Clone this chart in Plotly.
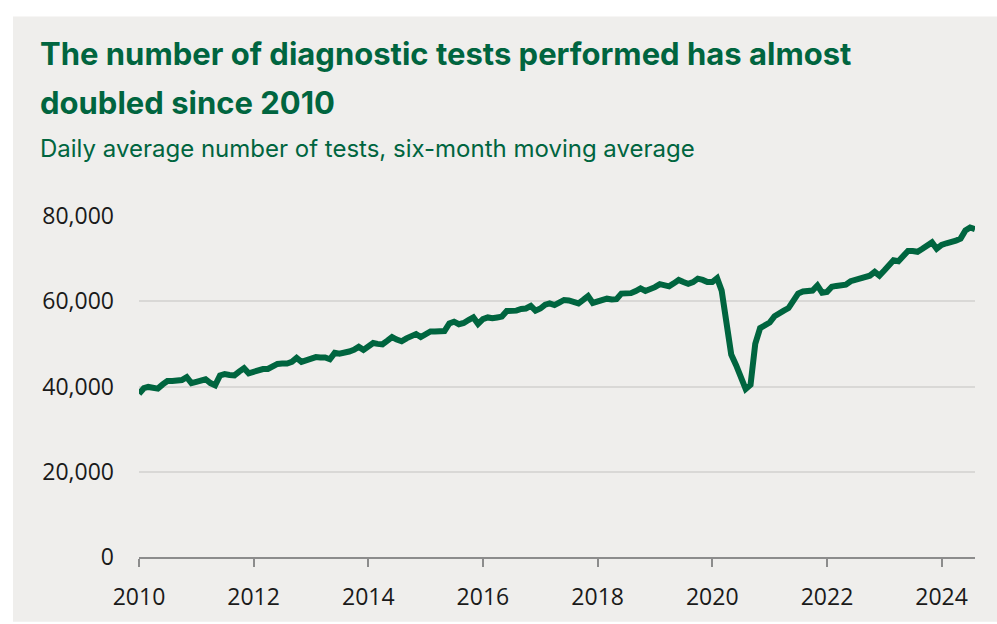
import pandas as pd
import plotly.graph_objects as go

# Daily average number of diagnostic tests (six-month moving average), monthly
y2010 = [38300, 39600, 39900, 39800, 39500, 40500, 41300, 41300, 41300, 41500, 42200, 40800]
y2011 = [41100, 41500, 41700, 40800, 40300, 42600, 42900, 42700, 42600, 43500, 44300, 43100]
y2012 = [43500, 44000, 44100, 44100, 44600, 45300, 45400, 45400, 45800, 46700, 45800, 46200]
y2013 = [46600, 46900, 46800, 46800, 46400, 47900, 47700, 47800, 48200, 48600, 49300, 48600]
y2014 = [49500, 50200, 50000, 49900, 50700, 51600, 51000, 50600, 51300, 51900, 52300, 51600]
y2015 = [52400, 52900, 52900, 52900, 53000, 54800, 55200, 54600, 54900, 55600, 56200, 54700]
y2016 = [55800, 56200, 56000, 56200, 56400, 57700, 57700, 57800, 58200, 58300, 58900, 57800]
y2017 = [58300, 59200, 59500, 59100, 59700, 60300, 60200, 59800, 59500, 60300, 61200, 59600]
y2018 = [60000, 60500, 60600, 60400, 60500, 61800, 61900, 61900, 62400, 63000, 62400, 62800]
y2019 = [63300, 64000, 63900, 63500, 64200, 65000, 64500, 64100, 64500, 65300, 65000, 64500]
y2020 = [64500, 65400, 62500, 53500, 47500, 45000, 42300, 39400, 40400, 50000, 53700, 54300]
y2021 = [55000, 56500, 57300, 57800, 58400, 60500, 61800, 62300, 62500, 62500, 63700, 62000]
y2022 = [62200, 63400, 63600, 63700, 63900, 64700, 65000, 65100, 65500, 66000, 66900, 66000]
y2023 = [67200, 68500, 69600, 69400, 70500, 71800, 71800, 71600, 72300, 72900, 73800, 72300]
y2024 = [73200, 73600, 73800, 74200, 74700, 76600, 77300, 76900]

values = (y2010 + y2011 + y2012 + y2013 + y2014 + y2015 + y2016 + y2017 +
          y2018 + y2019 + y2020 + y2021 + y2022 + y2023 + y2024)
dates = pd.date_range("2010-01-01", periods=len(values), freq="MS")

x_tick_vals = ["2010-01-01", "2012-01-01", "2014-01-01", "2016-01-01",
               "2018-01-01", "2020-01-01", "2022-01-01", "2024-01-01"]
x_tick_text = ["2010", "2012", "2014", "2016", "2018", "2020", "2022", "2024"]
y_tick_vals = [0, 20000, 40000, 60000, 80000]
y_tick_text = ["0", "20,000", "40,000", "60,000", "80,000"]

title_line1 = "The number of diagnostic tests performed has almost"
title_line2 = "doubled since 2010"
subtitle = "Daily average number of tests, six-month moving average"

W, H = 997, 624
L, R, T, B = 139, 22, 216, 61
PW, PH = W - L - R, H - T - B

def px(xp):
    return (xp - L) / PW

def py(yp):
    return (H - B - yp) / PH

GREEN = "#00653F"
BG = "#EFEEEC"

fig = go.Figure()
fig.add_trace(go.Scatter(
    x=dates, y=values, mode="lines",
    line=dict(color=GREEN, width=6),
    hoverinfo="skip", showlegend=False,
))

fig.add_shape(type="rect", xref="paper", yref="paper",
              x0=px(13), x1=px(W + 5), y0=py(H + 5), y1=py(13),
              fillcolor=BG, line=dict(width=0), layer="below")

fig.add_annotation(text=f"<b>{title_line1}</b>", xref="paper", yref="paper",
                   x=px(38), y=py(51), xanchor="left", yanchor="middle",
                   showarrow=False, font=dict(family="Inter", size=31, color=GREEN))
fig.add_annotation(text=f"<b>{title_line2}</b>", xref="paper", yref="paper",
                   x=px(38), y=py(100), xanchor="left", yanchor="middle",
                   showarrow=False, font=dict(family="Inter", size=31, color=GREEN))
fig.add_annotation(text=subtitle, xref="paper", yref="paper",
                   x=px(38), y=py(147), xanchor="left", yanchor="middle",
                   showarrow=False, font=dict(family="Inter", size=24, color=GREEN))

fig.update_layout(
    width=W, height=H,
    margin=dict(l=L, r=R, t=T, b=B, pad=0),
    paper_bgcolor="white",
    plot_bgcolor="rgba(0,0,0,0)",
    font=dict(family="Open Sans", size=23, color="#1a1a1a"),
    xaxis=dict(
        type="date",
        range=[dates[0], dates[-1]],
        tickvals=x_tick_vals, ticktext=x_tick_text,
        showgrid=False, zeroline=False,
        showline=True, linecolor="#8c8c8c", linewidth=2,
        ticks="outside", ticklen=8, tickwidth=1.5, tickcolor="#8c8c8c",
        ticklabelstandoff=10,
    ),
    yaxis=dict(
        range=[0, 80000],
        tickvals=y_tick_vals, ticktext=y_tick_text,
        showgrid=True, gridcolor="#D9D8D6", gridwidth=1.5,
        zeroline=False, showline=False,
        ticks="", ticklabelstandoff=24,
    ),
)

fig.write_html("out.html", config={"displayModeBar": False},
               post_script="document.body.style.margin='0';document.body.style.overflow='hidden';")
